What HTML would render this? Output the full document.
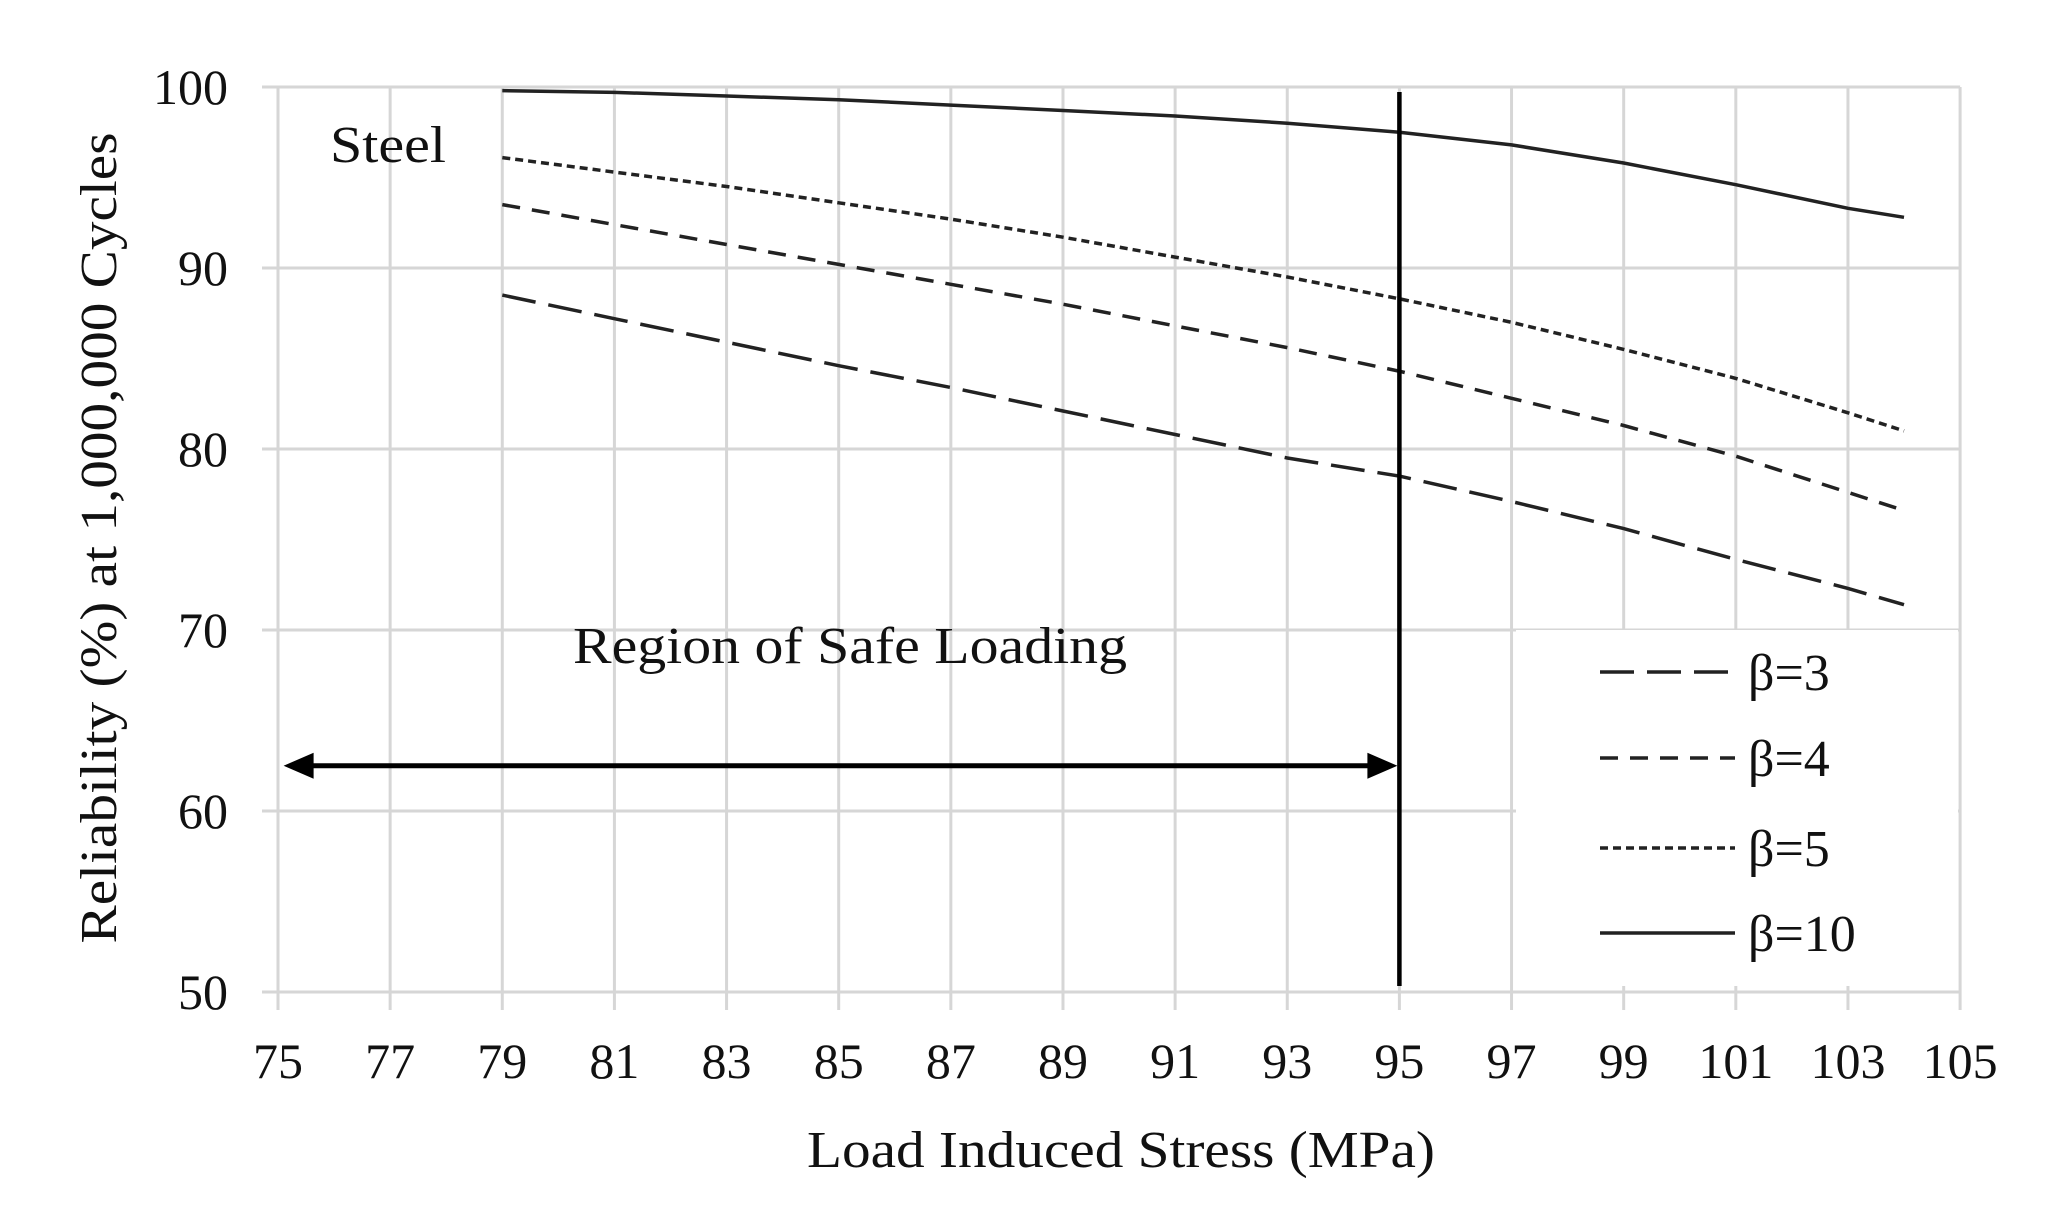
<!DOCTYPE html>
<html><head><meta charset="utf-8"><style>
html,body{margin:0;padding:0;background:#fff;}
svg{display:block;font-family:"Liberation Serif",serif;}
</style></head><body>
<svg id="chart" width="2061" height="1218" viewBox="0 0 2061 1218" xmlns="http://www.w3.org/2000/svg">
<g id="grid"></g>
<g id="ticks"></g>
<rect x="1516" y="630" width="442" height="356" fill="#fff"/>
<g id="series"></g>
<g id="legend"></g>
<text x="330" y="162" font-size="52" textLength="116" lengthAdjust="spacingAndGlyphs" fill="#111">Steel</text>
<text x="573" y="663" font-size="52" textLength="554" lengthAdjust="spacingAndGlyphs" fill="#111">Region of Safe Loading</text>
<text x="1121" y="1167" font-size="52" text-anchor="middle" textLength="628" lengthAdjust="spacingAndGlyphs" fill="#111">Load Induced Stress (MPa)</text>
<text transform="translate(116,538) rotate(-90)" font-size="52" text-anchor="middle" textLength="811" lengthAdjust="spacingAndGlyphs" fill="#111">Reliability (%) at 1,000,000 Cycles</text>
</svg>
<script>
const xs=[79,81,83,85,87,89,91,93,95,97,99,101,103,104];
const b3=[88.5,87.2,85.9,84.6,83.4,82.1,80.8,79.5,78.5,77.1,75.6,73.9,72.3,71.4];
const b4=[93.5,92.4,91.3,90.2,89.1,88.0,86.8,85.6,84.3,82.8,81.3,79.6,77.6,76.6];
const b5=[96.1,95.3,94.5,93.6,92.7,91.7,90.6,89.5,88.3,87.0,85.5,83.9,82.0,81.0];
const b10=[99.8,99.7,99.5,99.3,99.0,98.7,98.4,98.0,97.5,96.8,95.8,94.6,93.3,92.8];
const xTicks=[75,77,79,81,83,85,87,89,91,93,95,97,99,101,103,105];
const yTicks=[50,60,70,80,90,100];
const seriesNames=["β=3","β=4","β=5","β=10"];
const safeLimit=95, arrowLevel=62.5;
const NS="http://www.w3.org/2000/svg";
const X=v=>278+(v-75)*56.07, Y=v=>992-(v-50)*18.1;
function mk(tag,attrs,parent){const e=document.createElementNS(NS,tag);for(const k in attrs)e.setAttribute(k,attrs[k]);parent.appendChild(e);return e;}
const grid=document.getElementById('grid'),ticks=document.getElementById('ticks');
xTicks.forEach(t=>{
 const l=mk('line',{x1:X(t),x2:X(t),y1:Y(100),y2:Y(50)+18,stroke:'#d6d6d6','stroke-width':3},grid);
 
 
 const tx=mk('text',{x:X(t),y:1078,'font-size':50,'text-anchor':'middle',fill:'#111'},ticks);
 tx.textContent=t;
 
 
});
yTicks.forEach(t=>{
 const l=mk('line',{x1:X(75)-16,x2:X(105),y1:Y(t),y2:Y(t),stroke:'#d6d6d6','stroke-width':3},grid);
 
 
 const tx=mk('text',{x:228,y:Y(t)+17,'font-size':50,'text-anchor':'end',fill:'#111'},ticks);
 tx.textContent=t;
 
 
});
const ser=document.getElementById('series');
const dashes=["34 13","18 12","8 5",""];
[b3,b4,b5,b10].forEach((arr,i)=>{
 const d=arr.map((v,j)=>(j?'L':'M')+X(xs[j]).toFixed(1)+' '+Y(v).toFixed(1)).join(' ');
 const p=mk('path',{d:d,fill:'none',stroke:'#222','stroke-width':3.5,'stroke-dasharray':dashes[i]},ser);
 
 
});
const vl=mk('line',{x1:X(safeLimit),x2:X(safeLimit),y1:92,y2:986,stroke:'#000','stroke-width':4.5},ser);


const ay=Y(arrowLevel), ax1=X(75.1), ax2=X(safeLimit)-2;
const ar=mk('path',{d:`M${ax1+22} ${ay}L${ax2-22} ${ay}`,stroke:'#000','stroke-width':5,fill:'none'},ser);


const ah=mk('path',{d:`M${ax1} ${ay}L${ax1+30} ${ay-13}L${ax1+30} ${ay+13}Z M${ax2} ${ay}L${ax2-30} ${ay-13}L${ax2-30} ${ay+13}Z`,fill:'#000'},ser);


const leg=document.getElementById('legend');
const ly=[672,758,848,933];
seriesNames.forEach((n,i)=>{
 const l=mk('line',{x1:1600,x2:1735,y1:ly[i],y2:ly[i],stroke:'#222','stroke-width':3.5,'stroke-dasharray':dashes[i]},leg);
 
 
 const t=mk('text',{x:1748,y:ly[i]+18,'font-size':52,fill:'#111'},leg);
 t.textContent=n;
 
 
});
</script>
</body></html>
